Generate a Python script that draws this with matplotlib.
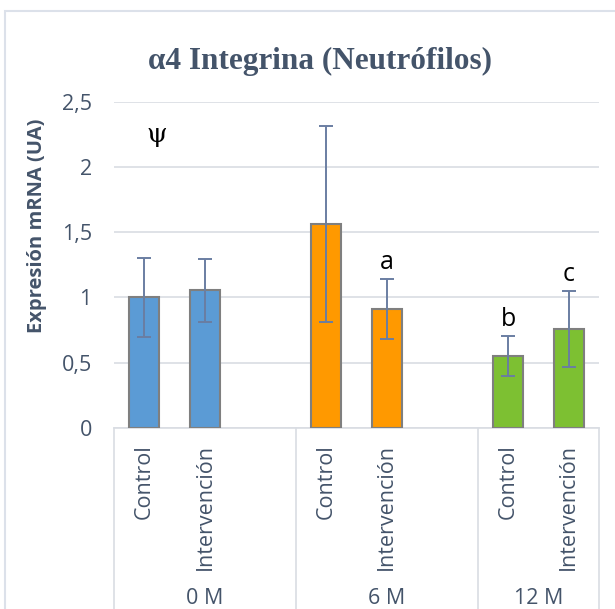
import matplotlib.pyplot as plt
from matplotlib.patches import Rectangle
from matplotlib.transforms import blended_transform_factory

# Datos: expresión de mRNA de α4 integrina en neutrófilos
grupos = ['0 M', '6 M', '12 M']
categorias = ['Control', 'Intervención']
medias = [1.00, 1.055, 1.565, 0.91, 0.55, 0.76]
errores = [0.30, 0.24, 0.75, 0.23, 0.155, 0.29]
colores = ['#5B9BD5', '#5B9BD5', '#FF9900', '#FF9900', '#7DC032', '#7DC032']
marcas = ['', 'a', 'b', 'c']  # el primero va aparte (ψ)

# posición de cada barra: dos por grupo, con un hueco entre grupos
pos = [0, 1, 3, 4, 6, 7]
limites_grupo = [-0.5, 2.5, 5.5, 7.5]

txt = '#44546A'
plt.rcParams['font.family'] = ['Open Sans', 'DejaVu Sans']

fig = plt.figure(figsize=(6.15, 6.09), dpi=100)
W, H = 615, 609
ax = fig.add_axes([114 / W, 181 / H, 485 / W, 326.3 / H])

# borde del área del gráfico
fig.patches.append(Rectangle((5 / W, -0.1), 1.2, (H - 11) / H + 0.1,
                             transform=fig.transFigure, fill=False,
                             edgecolor='#DCE1EA', linewidth=1.5))

ax.bar(pos, medias, width=0.5, color=colores, edgecolor='#7F7F7F',
       linewidth=1.5, zorder=3)
ax.errorbar(pos, medias, yerr=errores, fmt='none', ecolor='#6A7EA2',
            elinewidth=1.4, capsize=5, capthick=1.4, zorder=4)

ax.set_xlim(-0.5, 7.5)
ax.set_ylim(0, 2.5)
ax.set_yticks([0, 0.5, 1, 1.5, 2, 2.5])
ax.set_yticklabels(['0', '0,5', '1', '1,5', '2', '2,5'])
ax.tick_params(axis='y', length=0, pad=16, labelsize=15.5, labelcolor=txt)
ax.set_xticks([])
ax.grid(axis='y', color='#D9DDE3', linewidth=1.2, zorder=0)
for s in ax.spines.values():
    s.set_visible(False)

ax.set_ylabel('Expresión mRNA (UA)', fontsize=14.5, fontweight='bold',
              color=txt, va='center')
ax.yaxis.set_label_coords(-0.159, 0.619)

# eje de categorías en dos niveles
tr = blended_transform_factory(ax.transData, ax.transAxes)
ax.plot([-0.5, 7.5], [0, 0], color='#D9DDE3', lw=1.2, transform=tr,
        clip_on=False, zorder=2)
for x in limites_grupo:
    ax.plot([x, x], [0, -0.6], color='#D9DDE3', lw=1.2, transform=tr,
            clip_on=False)
for i, p in enumerate(pos):
    ax.text(p, -0.05, categorias[i % 2], rotation=90, ha='center',
            va='top', fontsize=15.5, color=txt, transform=tr)
for g, (a, b) in enumerate(zip(limites_grupo[:-1], limites_grupo[1:])):
    ax.text((a + b) / 2, -0.522, grupos[g], ha='center', va='center',
            fontsize=15.5, color=txt, transform=tr)

# marcas de significación
ax.text(0.2, 2.25, 'ψ', ha='center', va='center', fontsize=19,
        color='black', family=['DejaVu Serif'])
for i in range(1, 4):
    j = i + 2
    ax.text(pos[j], medias[j] + errores[j] + 0.03, marcas[i], ha='center',
            va='bottom', fontsize=18, color='black')

fig.text(320 / W, 1 - 61 / H, 'α4 Integrina (Neutrófilos)', ha='center',
         va='center', fontsize=22.5, fontweight='bold', color=txt,
         family=['Liberation Serif', 'DejaVu Serif'])

fig.savefig('out.png', dpi=100)
